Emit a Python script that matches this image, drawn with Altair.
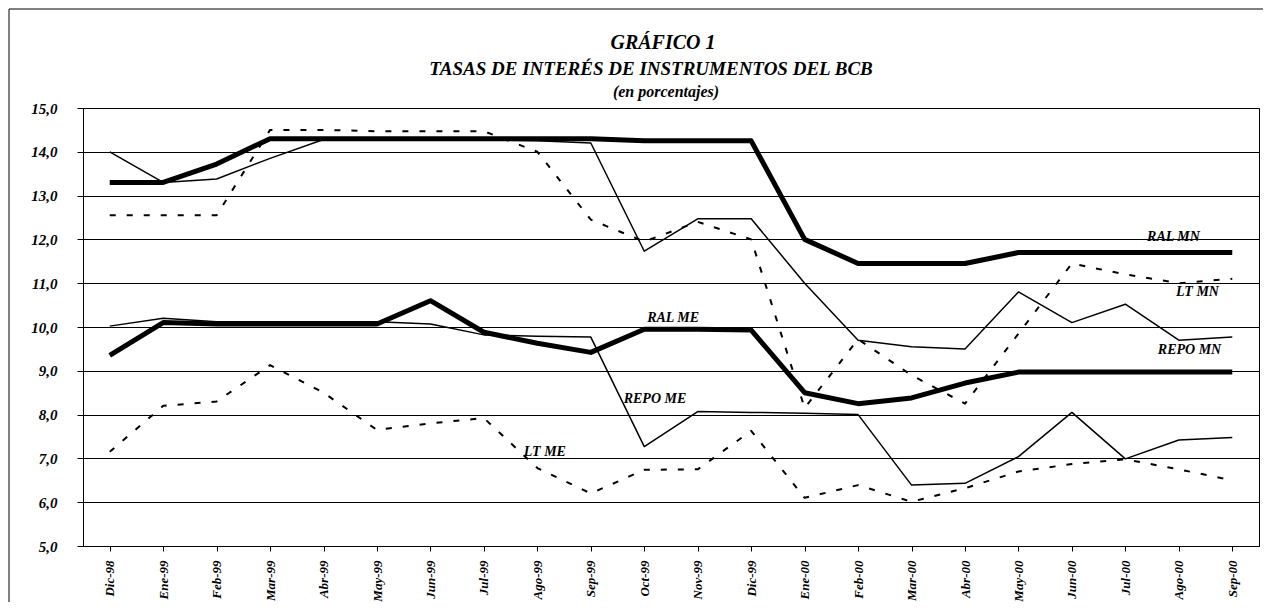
import json
import altair as alt
import pandas as pd

months = ['Dic-98', 'Ene-99', 'Feb-99', 'Mar-99', 'Abr-99', 'May-99', 'Jun-99', 'Jul-99',
          'Ago-99', 'Sep-99', 'Oct-99', 'Nov-99', 'Dic-99', 'Ene-00', 'Feb-00', 'Mar-00',
          'Abr-00', 'May-00', 'Jun-00', 'Jul-00', 'Ago-00', 'Sep-00']

ral_mn = [13.3, 13.3, 13.72, 14.3, 14.3, 14.3, 14.3, 14.3, 14.3, 14.3, 14.25, 14.25,
          14.25, 12.0, 11.45, 11.45, 11.45, 11.7, 11.7, 11.7, 11.7, 11.7]
lt_mn = [12.55, 12.55, 12.55, 14.5, 14.5, 14.47, 14.47, 14.47, 14.0, 12.45, 11.95, 12.4,
         12.0, 8.15, 9.72, 8.9, 8.25, 9.85, 11.45, 11.2, 11.0, 11.1]
repo_mn = [14.0, 13.3, 13.38, 13.85, 14.28, 14.28, 14.28, 14.28, 14.25, 14.2, 11.73, 12.47,
           12.47, 11.0, 9.7, 9.55, 9.5, 10.8, 10.1, 10.52, 9.7, 9.77]
ral_me = [9.35, 10.1, 10.07, 10.07, 10.07, 10.07, 10.6, 9.88, 9.63, 9.42, 9.95, 9.95,
          9.93, 8.5, 8.25, 8.38, 8.72, 8.97, 8.97, 8.97, 8.97, 8.97]
repo_me = [10.02, 10.2, 10.12, 10.12, 10.12, 10.12, 10.07, 9.82, 9.79, 9.77, 7.27, 8.07,
           8.05, 8.03, 8.0, 6.39, 6.43, 7.04, 8.05, 6.99, 7.42, 7.48]
lt_me = [7.15, 8.2, 8.3, 9.13, 8.5, 7.65, 7.8, 7.92, 6.78, 6.2, 6.74, 6.75,
         7.63, 6.1, 6.39, 6.01, 6.32, 6.7, 6.87, 6.98, 6.75, 6.5]

series_names = ['RAL MN', 'LT MN', 'REPO MN', 'RAL ME', 'REPO ME', 'LT ME']
series_values = [ral_mn, lt_mn, repo_mn, ral_me, repo_me, lt_me]

# in-chart series labels (position in category index / value units)
label_text = ['RAL MN', 'LT MN', 'REPO MN', 'RAL ME', 'REPO ME', 'LT ME']
label_x = [19.9, 20.35, 20.2, 10.54, 10.2, 8.14]
label_y = [12.05, 10.8, 9.47, 10.2, 8.36, 7.15]

title_lines = ['GRÁFICO 1', 'TASAS DE INTERÉS DE INSTRUMENTOS DEL BCB']
subtitle_text = '(en porcentajes)'

y_ticks = list(range(5, 16))

rows = []
for name, vals in zip(series_names, series_values):
    for i, (m, v) in enumerate(zip(months, vals)):
        rows.append({'serie': name, 'idx': i, 'mes': m, 'tasa': v})
df = pd.DataFrame(rows)
lab = pd.DataFrame({'texto': label_text, 'idx': label_x, 'tasa': label_y})

FONT = 'Liberation Serif'
styles = {
    'RAL MN': dict(strokeWidth=5),
    'LT MN': dict(strokeWidth=2, strokeDash=[6, 11]),
    'REPO MN': dict(strokeWidth=1.5),
    'RAL ME': dict(strokeWidth=5),
    'REPO ME': dict(strokeWidth=1.5),
    'LT ME': dict(strokeWidth=2, strokeDash=[6, 11]),
}

x_enc = alt.X('idx:Q', title=None,
              scale=alt.Scale(domain=[-0.5, 21.5], nice=False, zero=False),
              axis=alt.Axis(values=list(range(len(months))),
                            labelExpr=json.dumps(months) + '[datum.value]',
                            labelAngle=270, labelAlign='right', labelBaseline='middle',
                            labelFont=FONT, labelFontSize=13, labelFontStyle='italic',
                            labelFontWeight='bold', labelColor='black', labelPadding=9,
                            tickSize=5, tickColor='black', domainColor='black',
                            grid=False, labelOverlap=False))
y_enc = alt.Y('tasa:Q', title=None,
              scale=alt.Scale(domain=[5, 15], nice=False, zero=False),
              axis=alt.Axis(values=y_ticks,
                            labelExpr="replace(format(datum.value, '.1f'), '.', ',')",
                            labelFont=FONT, labelFontSize=15, labelFontStyle='italic',
                            labelFontWeight='bold', labelColor='black', labelPadding=20,
                            tickSize=6, tickColor='black', domainColor='black',
                            grid=True, gridColor='black', gridWidth=1, gridOpacity=1))

layers = []
for name in series_names:
    layers.append(
        alt.Chart(df).transform_filter(alt.datum.serie == name)
        .mark_line(color='black', strokeCap='butt', strokeJoin='round', **styles[name])
        .encode(x=x_enc, y=y_enc)
    )

texts = alt.Chart(lab).mark_text(font=FONT, fontSize=14, fontStyle='italic',
                                 fontWeight='bold', color='black').encode(
    x=alt.X('idx:Q'), y=alt.Y('tasa:Q'), text='texto:N')

one = pd.DataFrame({'a': [0]})
frame = alt.Chart(one).mark_rect(
    fill='transparent', stroke='black', strokeWidth=1, clip=False).encode(
    x=alt.value(-74), x2=alt.value(1200), y=alt.value(-99), y2=alt.value(520))

title_kw = dict(font=FONT, fontStyle='italic', fontWeight='bold', color='black',
                align='center', baseline='alphabetic', clip=False)
t1 = alt.Chart(one).mark_text(fontSize=20, **title_kw).encode(
    x=alt.value(580), y=alt.value(-59), text=alt.value(title_lines[0]))
t2 = alt.Chart(one).mark_text(fontSize=19, **title_kw).encode(
    x=alt.value(568), y=alt.value(-33), text=alt.value(title_lines[1]))
t3 = alt.Chart(one).mark_text(fontSize=16, **title_kw).encode(
    x=alt.value(583), y=alt.value(-11), text=alt.value(subtitle_text))

chart = alt.layer(frame, *layers, texts, t1, t2, t3).properties(
    width=1176, height=438,
    padding={'left': 75, 'top': 100, 'right': 4, 'bottom': 56},
    autosize=alt.AutoSizeParams(type='none'),
    background='white',
).configure_view(stroke='black', strokeWidth=1)

chart.save("out.html", embed_options={"renderer": "svg", "actions": False})
